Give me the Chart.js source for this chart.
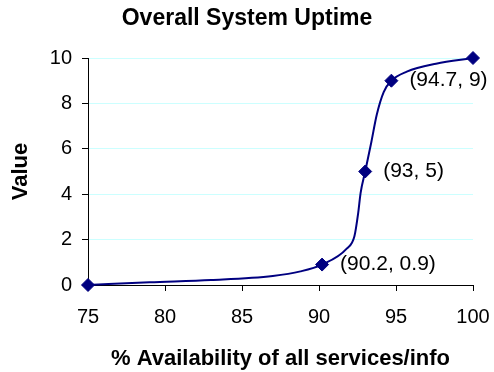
<!DOCTYPE html>
<html>
<head>
<meta charset="utf-8">
<script src="https://cdn.jsdelivr.net/npm/chart.js@4"></script>
<style>
  html, body { margin: 0; padding: 0; background: #fff; }
  #wrap { width: 494px; height: 372px; }
</style>
</head>
<body>
<div id="wrap"><canvas id="uptimeChart"></canvas></div>
<script>
// curve traced through the data (line only)
const curveX = [75, 79, 83, 87, 88.8, 90.2, 91.8, 92.3, 92.55, 92.7, 93, 93.4, 93.75, 94.2, 94.7, 95.7, 97.6, 100];
const curveY = [0, 0.12, 0.22, 0.4, 0.6, 0.9, 1.6, 2.15, 3.2, 4.05, 5, 6.3, 7.5, 8.5, 9, 9.4, 9.75, 10];

// marked points
const markX = [75, 90.2, 93, 94.7, 100];
const markY = [0, 0.9, 5, 9, 10];
const markLabels = ["", "(90.2, 0.9)", "(93, 5)", "(94.7, 9)", ""];

const navy = "#000080";
const font = "'Liberation Sans', Arial, sans-serif";

/* draws the (x, y) labels to the right of the markers */
const pointLabels = {
    id: "pointLabels",
    afterDatasetsDraw(chart){
        const meta = chart.getDatasetMeta(1);
        const ctx = chart.ctx;
        ctx.save();
        ctx.font = "21px " + font;
        ctx.fillStyle = "#000";
        ctx.textBaseline = "middle";
        meta.data.forEach(function(pt, i){
            if (markLabels[i]) ctx.fillText(markLabels[i], pt.x + 18, pt.y);
        });
        ctx.restore();
    }
};

new Chart(document.getElementById("uptimeChart"), {
    type: "scatter",
    data: {
        datasets: [{
            data: curveX.map((x, i) => ({x: x, y: curveY[i]})),
            showLine: true,
            borderColor: navy,
            borderWidth: 2,
            pointRadius: 0,
            cubicInterpolationMode: "monotone",
            clip: false
        }, {
            data: markX.map((x, i) => ({x: x, y: markY[i]})),
            showLine: false,
            pointStyle: "rectRot",
            pointRadius: 6.5,
            backgroundColor: navy,
            borderColor: navy,
            clip: false
        }]
    },
    options: {
        responsive: true,
        maintainAspectRatio: false,
        animation: false,
        layout: { padding: 0 },
        plugins: {
            legend: { display: false },
            tooltip: { enabled: false },
            title: {
                display: true,
                text: "Overall System Uptime",
                color: "#000",
                font: { family: font, size: 23, weight: "bold" },
                padding: { top: 5, bottom: 25.4 }
            }
        },
        scales: {
            x: {
                type: "linear",
                min: 75,
                max: 100,
                border: { color: "#000", width: 1 },
                grid: { drawOnChartArea: false, color: "#000", tickLength: 6 },
                ticks: { stepSize: 5, color: "#000", padding: 14, font: { family: font, size: 20 } },
                title: {
                    display: true,
                    text: "% Availability of all services/info",
                    color: "#000",
                    font: { family: font, size: 22, weight: "bold" },
                    padding: { top: 0, bottom: 0 }
                },
                afterFit(scale){
                    scale.height = 87;
                    scale.paddingLeft = 0;
                    scale.paddingRight = 21;
                }
            },
            y: {
                min: 0,
                max: 10,
                border: { color: "#000", width: 1 },
                grid: { color: "#ccffff", tickColor: "#000", tickLength: 6 },
                ticks: { stepSize: 2, color: "#000", padding: 10, font: { family: font, size: 20 } },
                title: {
                    display: true,
                    text: "Value",
                    color: "#000",
                    font: { family: font, size: 22, weight: "bold" },
                    padding: { top: 8, bottom: 0 }
                },
                afterFit(scale){ scale.width = 88; }
            }
        }
    },
    plugins: [pointLabels]
});
</script>
</body>
</html>
